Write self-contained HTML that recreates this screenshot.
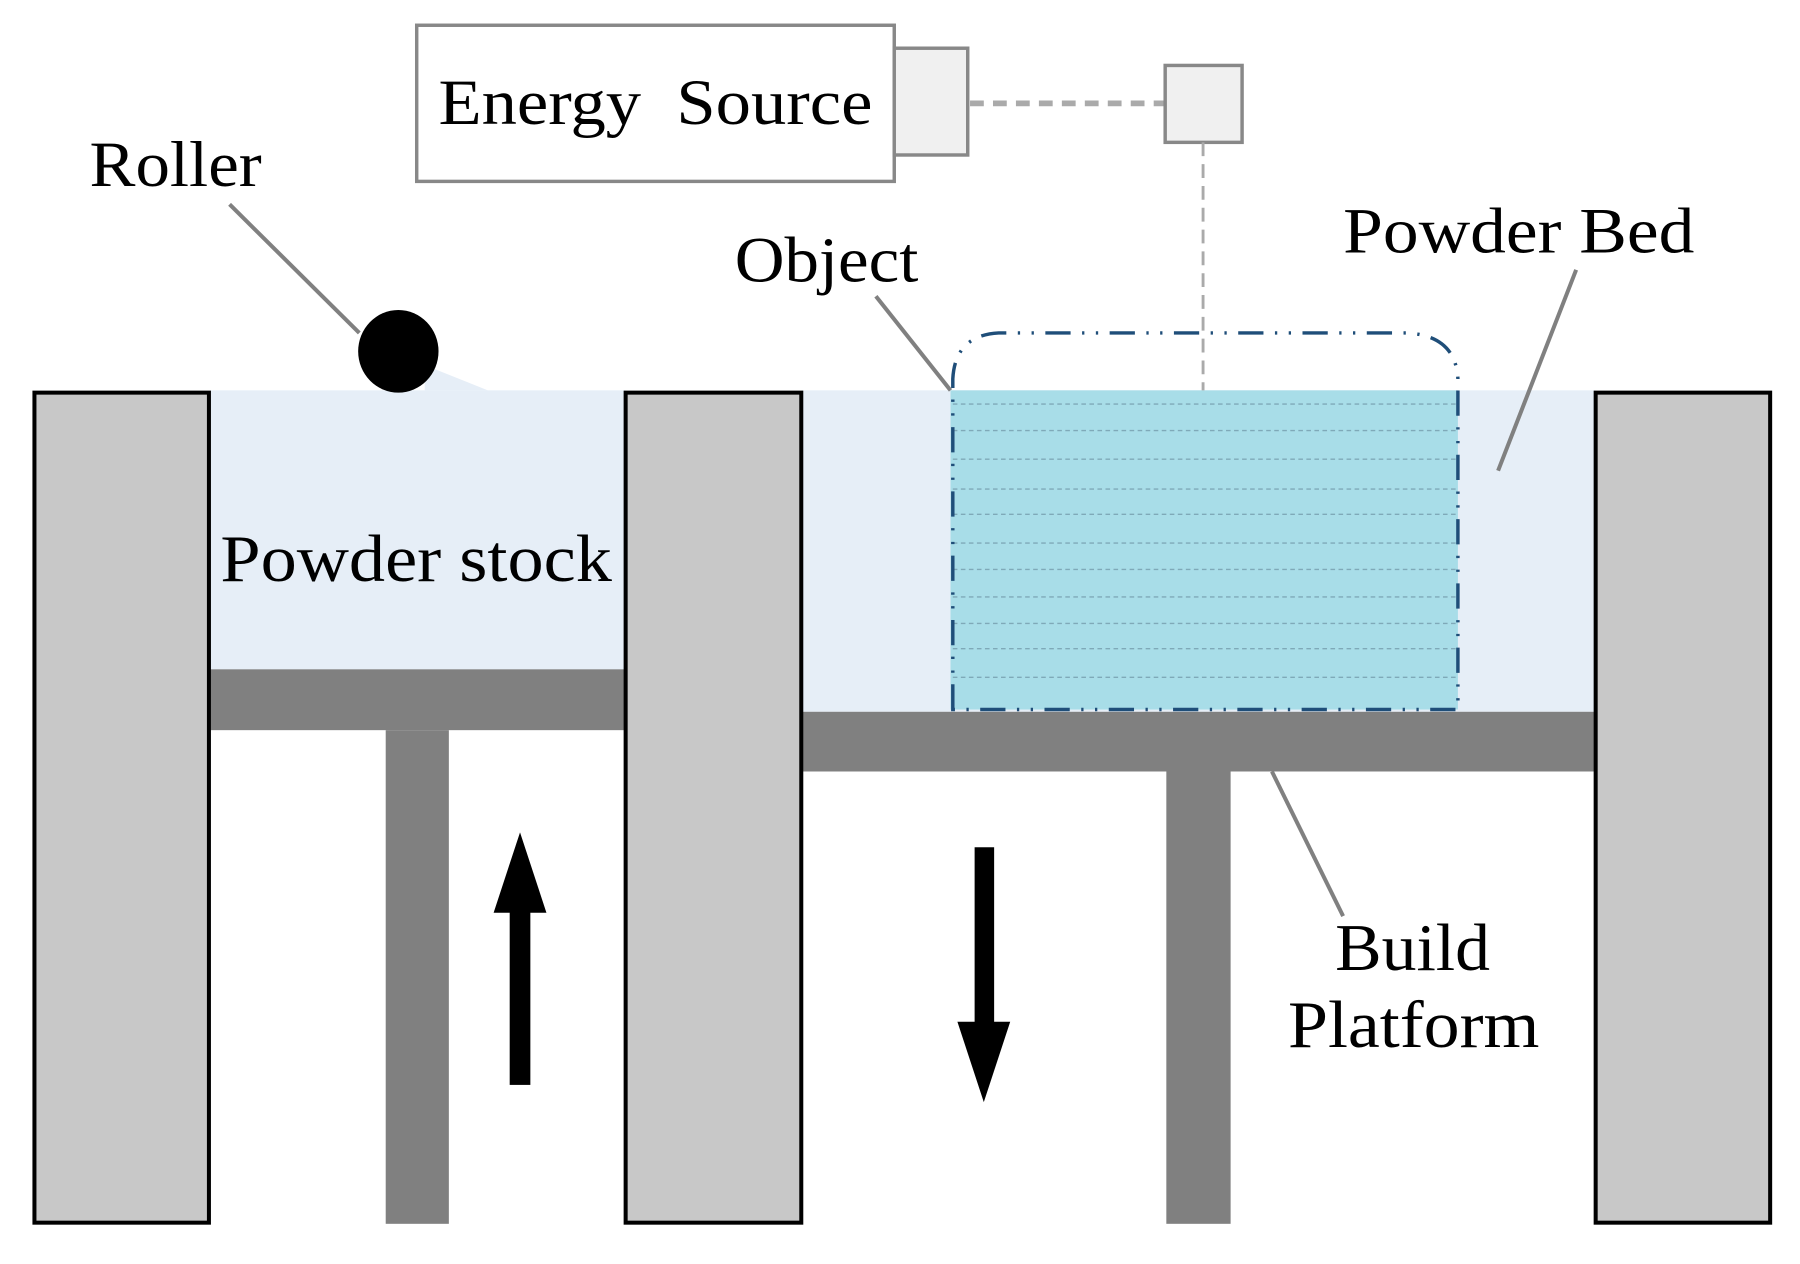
<!DOCTYPE html>
<html><head><meta charset="utf-8"><style>html,body{margin:0;padding:0;background:#fff}svg{display:block}text{font-family:"Liberation Serif",serif;fill:#000}</style></head>
<body>
<svg width="1800" height="1264" viewBox="0 0 1568 1101" preserveAspectRatio="none" xmlns="http://www.w3.org/2000/svg">
<rect x="0" y="0" width="1568" height="1101" fill="#fff"/>
<rect x="183" y="340" width="362" height="243" fill="#e6eef7"/>
<polygon points="370,318 400,330 425,340 370,340" fill="#e6eef7"/>
<rect x="698" y="340" width="692" height="280" fill="#e6eef7"/>
<rect x="828" y="340" width="442" height="278" fill="#a8dde8"/>
<g stroke="#7fa9b8" stroke-width="1.2" stroke-dasharray="4,3">
<line x1="830" y1="352" x2="1268" y2="352"/><line x1="830" y1="375" x2="1268" y2="375"/>
<line x1="830" y1="400" x2="1268" y2="400"/><line x1="830" y1="426" x2="1268" y2="426"/>
<line x1="830" y1="448" x2="1268" y2="448"/><line x1="830" y1="473" x2="1268" y2="473"/>
<line x1="830" y1="496" x2="1268" y2="496"/><line x1="830" y1="520" x2="1268" y2="520"/>
<line x1="830" y1="543" x2="1268" y2="543"/><line x1="830" y1="565" x2="1268" y2="565"/>
<line x1="830" y1="590" x2="1268" y2="590"/>
</g>
<path d="M830,618 L830,330 Q832,292 870,290 L1225,290 Q1268,292 1270,330 L1270,618 Z" fill="none" stroke="#1f4e79" stroke-width="3" stroke-dasharray="22,10,2,10,2,10"/>
<rect x="183" y="583" width="362" height="53" fill="#808080"/>
<rect x="336" y="636" width="55" height="430" fill="#808080"/>
<rect x="698" y="620" width="692" height="52" fill="#808080"/>
<rect x="1016" y="672" width="56" height="394" fill="#808080"/>
<rect x="30" y="342" width="152" height="723" fill="#c8c8c8" stroke="#000" stroke-width="3.5"/>
<rect x="545" y="342" width="153" height="723" fill="#c8c8c8" stroke="#000" stroke-width="3.5"/>
<rect x="1390" y="342" width="152" height="723" fill="#c8c8c8" stroke="#000" stroke-width="3.5"/>
<ellipse cx="347" cy="306" rx="35" ry="36" fill="#000"/>
<rect x="363" y="22" width="416" height="136" fill="#fff" stroke="#888" stroke-width="3"/>
<rect x="779" y="42" width="64" height="93" fill="#f0f0f0" stroke="#888" stroke-width="3"/>
<line x1="845" y1="90" x2="1015" y2="90" stroke="#aaa" stroke-width="5" stroke-dasharray="12,8"/>
<rect x="1015" y="57" width="67" height="67" fill="#f0f0f0" stroke="#888" stroke-width="3"/>
<line x1="1048" y1="124" x2="1048" y2="340" stroke="#aaa" stroke-width="2.5" stroke-dasharray="12,7"/>
<g stroke="#808080" stroke-width="3.5">
<line x1="200" y1="178" x2="313" y2="290"/>
<line x1="763" y1="258" x2="828" y2="340"/>
<line x1="1373" y1="235" x2="1305" y2="410"/>
<line x1="1108" y1="672" x2="1170" y2="798"/>
</g>
<rect x="444" y="790" width="18" height="155" fill="#000"/>
<polygon points="430,795 476,795 453,725" fill="#000"/>
<rect x="849" y="738" width="17" height="155" fill="#000"/>
<polygon points="834,890 880,890 857,960" fill="#000"/>
<text x="382" y="108" font-size="56" textLength="378" lengthAdjust="spacingAndGlyphs">Energy&#160;&#160;Source</text>
<text x="78" y="162" font-size="56" textLength="150" lengthAdjust="spacingAndGlyphs">Roller</text>
<text x="640" y="245" font-size="56" textLength="160" lengthAdjust="spacingAndGlyphs">Object</text>
<text x="1170" y="220" font-size="56" textLength="306" lengthAdjust="spacingAndGlyphs">Powder Bed</text>
<text x="192" y="506" font-size="58" textLength="341" lengthAdjust="spacingAndGlyphs">Powder stock</text>
<text x="1163" y="845" font-size="58" textLength="135" lengthAdjust="spacingAndGlyphs">Build</text>
<text x="1122" y="912" font-size="58" textLength="219" lengthAdjust="spacingAndGlyphs">Platform</text>
</svg>
</body></html>
